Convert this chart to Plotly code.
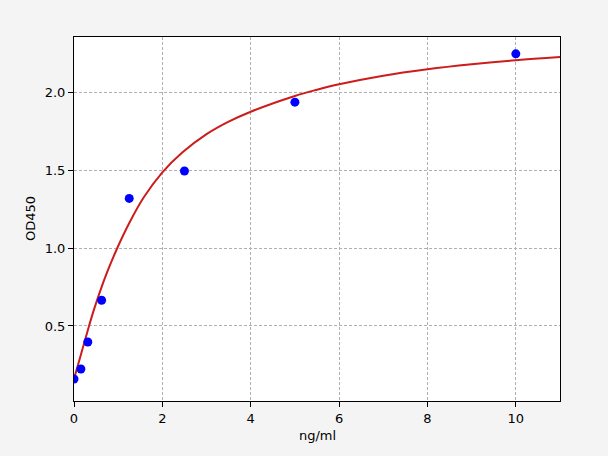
import plotly.graph_objects as go

# Measured standards
conc = [0, 0.156, 0.3125, 0.625, 1.25, 2.5, 5, 10]
od450 = [0.16, 0.224, 0.397, 0.665, 1.318, 1.494, 1.935, 2.245]

# Fitted curve
curve_x = [0, 0.17, 0.34, 0.446, 0.6, 0.75, 0.98, 1.26, 1.58, 2.0, 2.45, 3.0, 3.5,
           4.0, 5.0, 5.5, 6, 7, 8, 9, 10, 11]
curve_y = [0.16, 0.33, 0.50, 0.60, 0.73, 0.845, 1.00, 1.165, 1.325, 1.485, 1.612, 1.73, 1.81,
           1.874, 1.975, 2.015, 2.05, 2.105, 2.146, 2.178, 2.204, 2.225]

x_ticks = [0, 2, 4, 6, 8, 10]
y_ticks = [0.5, 1.0, 1.5, 2.0]
y_tick_labels = ["0.5", "1.0", "1.5", "2.0"]
x_title = "ng/ml"
y_title = "OD450"

fig = go.Figure()
fig.add_trace(go.Scatter(
    x=curve_x, y=curve_y, mode="lines",
    line=dict(color="#cc1c1c", width=2, shape="spline", smoothing=1.0),
    showlegend=False, hoverinfo="skip",
))
fig.add_trace(go.Scatter(
    x=conc, y=od450, mode="markers",
    marker=dict(color="#0000ff", size=9, line=dict(width=0)),
    showlegend=False,
))

axis_common = dict(
    showline=True, linecolor="black", linewidth=1, mirror=True,
    ticks="outside", ticklen=5, tickcolor="black", tickwidth=1,
    showgrid=True, gridcolor="#b0b0b0", gridwidth=1, griddash="3px,2px",
    zeroline=False, automargin=False,
    tickfont=dict(family="DejaVu Sans", size=13, color="black"),
)

fig.update_xaxes(range=[0, 11], tickvals=x_ticks, **axis_common)
fig.update_yaxes(range=[0.019, 2.353], tickvals=y_ticks, ticktext=y_tick_labels, **axis_common)

title_font = dict(family="DejaVu Sans", size=13, color="black")
fig.add_annotation(text=x_title, xref="paper", yref="paper", x=0.5, y=0,
                   yshift=-34, xanchor="center", yanchor="middle",
                   showarrow=False, font=title_font)
fig.add_annotation(text=y_title, xref="paper", yref="paper", x=0, y=0.5,
                   xshift=-44, xanchor="center", yanchor="middle", textangle=-90,
                   showarrow=False, font=title_font)

fig.update_layout(
    width=608, height=456,
    margin=dict(l=74, r=48, t=37, b=55),
    paper_bgcolor="#f4f4f4",
    plot_bgcolor="white",
    font=dict(family="DejaVu Sans", size=13, color="black"),
)

fig.write_html(
    "out.html",
    config={"displayModeBar": False},
    post_script="document.body.style.margin='0';document.body.style.overflow='hidden';",
)
